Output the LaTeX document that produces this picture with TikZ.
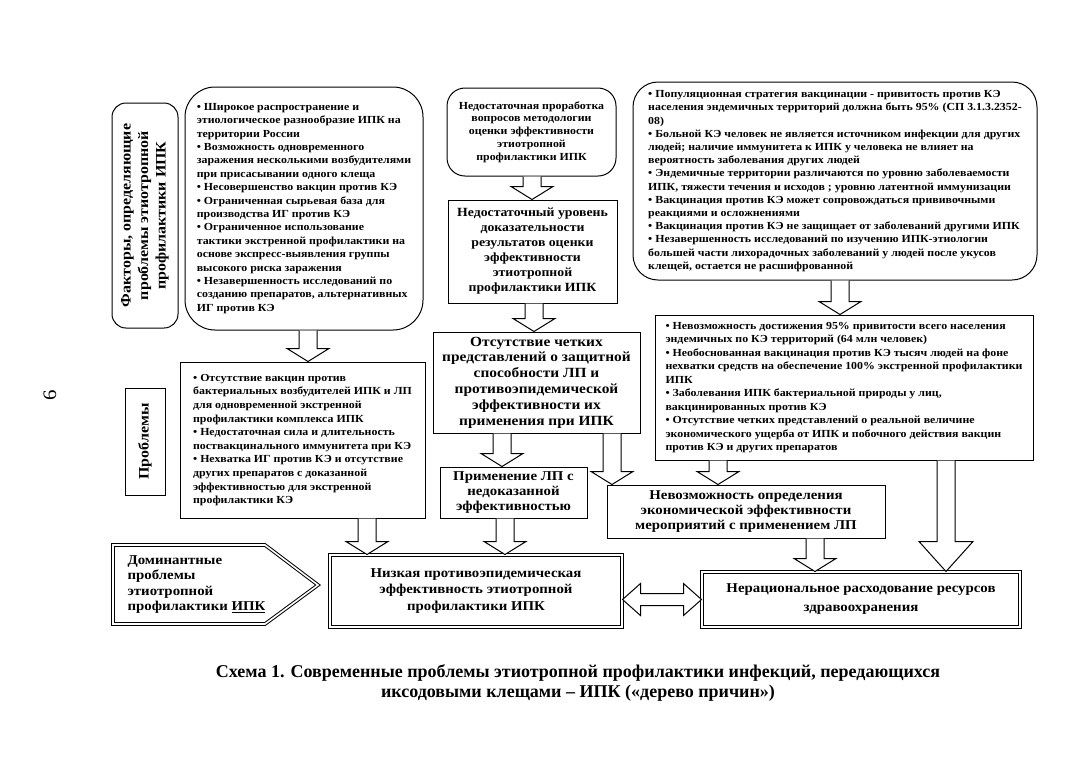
\documentclass[tikz,border=0pt]{standalone}
\usepackage{fontspec}
\setmainfont{Liberation Serif}[FakeStretch=1.1]
\newfontfamily\capfont{Liberation Serif}
\usetikzlibrary{calc}

\tikzset{
  frame/.style={draw, line width=1pt, inner sep=0pt, font=\bfseries},
  roundframe/.style={frame, rounded corners=#1},
  dframe/.style={draw, double, double distance=1.6pt, line width=1pt, inner sep=0pt, font=\bfseries},
  blockarrow/.style={draw, line width=1pt, fill=white, line join=miter},
}

% block arrow sizes
\def\shaftw{9pt}
\def\headw{21pt}
\def\headl{13pt}
% vertical hollow arrow from #1 (top) to #2 (bottom)
\newcommand\vblock[2]{%
  \draw[blockarrow] let \p1=#1, \p2=#2 in
    (\x1-\shaftw,\y1) -- (\x1-\shaftw,\y2+\headl) -- (\x1-\headw,\y2+\headl) -- (\x1,\y2)
    -- (\x1+\headw,\y2+\headl) -- (\x1+\shaftw,\y2+\headl) -- (\x1+\shaftw,\y1);}

\begin{document}
\begin{tikzpicture}[x=1pt,y=-1pt]
  % Boundary
  \useasboundingbox (0,0) rectangle (1082,780);
  \node[font=\fontsize{19}{19}\selectfont, rotate=90] (pagenum) at (50,395) {6};
  % Row labels
  \node[roundframe=14pt, rotate=90, minimum width=225, minimum height=66, align=center,
        font=\bfseries\fontsize{14.5}{17.5}\selectfont] (factors) at (145,215.5)
    {Факторы, определяющие\\проблемы этиотропной\\профилактики ИПК};
  \node[frame, rotate=90, minimum width=107, minimum height=40,
        font=\bfseries\fontsize{14.5}{17.5}\selectfont] (problems) at (145,441.5) {Проблемы};
  % Factors
  \node[roundframe=30pt, minimum width=238, minimum height=243, align=left,
        font=\bfseries\fontsize{10.8}{13.4}\selectfont] (causes) at (304,208.5)
    {• Широкое распространение и\\
     этиологическое разнообразие ИПК на\\
     территории России\\
     • Возможность одновременного\\
     заражения несколькими возбудителями\\
     при присасывании одного клеща\\
     • Несовершенство вакцин против КЭ\\
     • Ограниченная сырьевая база для\\
     производства ИГ против КЭ\\
     • Ограниченное использование\\
     тактики экстренной профилактики на\\
     основе экспресс-выявления группы\\
     высокого риска заражения\\
     • Незавершенность исследований по\\
     созданию препаратов, альтернативных\\
     ИГ против КЭ};
  \node[roundframe=18pt, minimum width=169, minimum height=88, align=center,
        font=\bfseries\fontsize{10.8}{12.8}\selectfont] (method) at (531.5,132)
    {Недостаточная проработка\\вопросов методологии\\оценки эффективности\\этиотропной\\профилактики ИПК};
  \node[frame, minimum width=169, minimum height=103, align=center,
        font=\bfseries\fontsize{12.5}{15}\selectfont] (evidence) at (532.5,251.5)
    {Недостаточный уровень\\доказательности\\результатов оценки\\эффективности\\этиотропной\\профилактики ИПК};
  \node[roundframe=25pt, minimum width=404, minimum height=198, align=left,
        font=\bfseries\fontsize{10.8}{13.2}\selectfont] (strategy) at (835,181)
    {• Популяционная стратегия вакцинации - привитость против КЭ\\
     населения эндемичных территорий должна быть 95\% (СП 3.1.3.2352-\\
     08)\\
     • Больной КЭ человек не является источником инфекции для других\\
     людей; наличие иммунитета к ИПК у человека не влияет на\\
     вероятность заболевания других людей\\
     • Эндемичные территории различаются по уровню заболеваемости\\
     ИПК, тяжести течения и исходов ; уровню латентной иммунизации\\
     • Вакцинация против КЭ может сопровождаться прививочными\\
     реакциями и осложнениями\\
     • Вакцинация против КЭ не защищает от заболеваний другими ИПК\\
     • Незавершенность исследований по изучению ИПК-этиологии\\
     большей части лихорадочных заболеваний у людей после укусов\\
     клещей, остается не расшифрованной};
  % Problems
  \node[frame, minimum width=245, minimum height=156, align=left,
        font=\bfseries\fontsize{10.8}{13.6}\selectfont] (lacks) at (302.5,440)
    {• Отсутствие вакцин против\\
     бактериальных возбудителей ИПК и ЛП\\
     для одновременной экстренной\\
     профилактики комплекса ИПК\\
     • Недостаточная сила и длительность\\
     поствакцинального иммунитета при КЭ\\
     • Нехватка ИГ против КЭ и отсутствие\\
     других препаратов с доказанной\\
     эффективностью для экстренной\\
     профилактики КЭ};
  \node[frame, minimum width=207, minimum height=101, align=center,
        font=\bfseries\fontsize{14}{15.8}\selectfont] (notion) at (536.5,382.5)
    {Отсутствие четких\\представлений о защитной\\способности ЛП и\\противоэпидемической\\эффективности их\\применения при ИПК};
  \node[frame, minimum width=378, minimum height=145, align=left,
        font=\bfseries\fontsize{10.8}{13.5}\selectfont] (coverage) at (844,387.5)
    {• Невозможность достижения 95\% привитости всего населения\\
     эндемичных по КЭ территорий (64 млн человек)\\
     • Необоснованная вакцинация против КЭ тысяч людей на фоне\\
     нехватки средств на обеспечение 100\% экстренной профилактики\\
     ИПК\\
     • Заболевания ИПК бактериальной природы у лиц,\\
     вакцинированных против КЭ\\
     • Отсутствие четких представлений о реальной величине\\
     экономического ущерба от ИПК и побочного действия вакцин\\
     против КЭ и других препаратов};
  \node[frame, minimum width=147, minimum height=51, align=center,
        font=\bfseries\fontsize{13.5}{15}\selectfont] (unproven) at (513.5,492.5)
    {Применение ЛП с\\недоказанной\\эффективностью};
  \node[frame, minimum width=278, minimum height=53, align=center,
        font=\bfseries\fontsize{13.5}{15}\selectfont] (econ) at (746,511.5)
    {Невозможность определения\\экономической эффективности\\мероприятий с применением ЛП};
  % Dominant problems
  \draw[double, double distance=1.6pt, line width=1pt]
    (113,545) -- (265,545) -- (318,585) -- (265,624) -- (113,624) -- cycle;
  \node[align=left, anchor=west, font=\bfseries\fontsize{13.5}{15.5}\selectfont] (dominant) at (124,584.5)
    {Доминантные\\проблемы\\этиотропной\\профилактики \underline{ИПК}};
  \node[dframe, minimum width=292, minimum height=72, align=center,
        font=\bfseries\fontsize{13.5}{16.5}\selectfont] (low) at (476,591)
    {Низкая противоэпидемическая\\эффективность этиотропной\\профилактики ИПК};
  \node[dframe, minimum width=318, minimum height=55, align=center,
        font=\bfseries\fontsize{13.5}{19}\selectfont] (waste) at (861,599.5)
    {Нерациональное расходование ресурсов\\здравоохранения};
  % Arrows
  \vblock{(308,0 |- causes.south)}{(308,0 |- lacks.north)}
  \vblock{(532,0 |- method.south)}{(532,0 |- evidence.north)}
  \vblock{(534,0 |- evidence.south)}{(534,0 |- notion.north)}
  \vblock{(840,0 |- strategy.south)}{(840,0 |- coverage.north)}
  \vblock{(502,0 |- notion.south)}{(502,0 |- unproven.north)}
  \vblock{(612,0 |- notion.south)}{(612,0 |- econ.north)}
  \vblock{(718,0 |- coverage.south)}{(718,0 |- econ.north)}
  \vblock{(367,0 |- lacks.south)}{(367,0 |- low.north)}
  \vblock{(505,0 |- unproven.south)}{(505,0 |- low.north)}
  \vblock{(815,0 |- econ.south)}{(815,0 |- waste.north)}
  {\def\headw{27pt}\def\headl{30pt}
   \vblock{(946,0 |- coverage.south)}{(946,0 |- waste.north)}}
  \draw[blockarrow] let \p1=(low.east), \p2=(waste.west) in
    (\x1,\y2) -- (\x1+18pt,\y2+16pt) -- (\x1+18pt,\y2+6pt) -- (\x2-18pt,\y2+6pt) -- (\x2-18pt,\y2+16pt)
    -- (\x2,\y2) -- (\x2-18pt,\y2-16pt) -- (\x2-18pt,\y2-6pt) -- (\x1+18pt,\y2-6pt) -- (\x1+18pt,\y2-16pt) -- cycle;
  % Caption
  \node[align=center, font=\capfont\bfseries\fontsize{18}{20.5}\selectfont] (caption) at (578,683)
    {Схема 1. Современные проблемы этиотропной профилактики инфекций, передающихся\\
     иксодовыми клещами – ИПК («дерево причин»)};
\end{tikzpicture}
\end{document}
